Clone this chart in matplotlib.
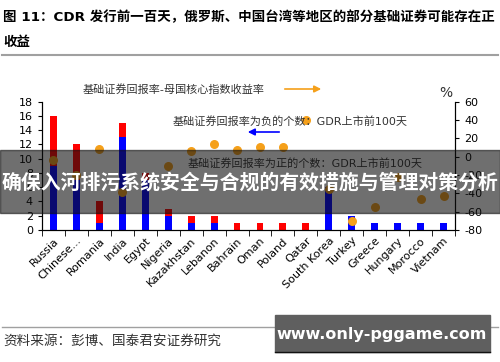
import numpy as np
import matplotlib
matplotlib.use("Agg")
import matplotlib.pyplot as plt
from matplotlib.patches import Rectangle

# -----------------------
# DATA
# -----------------------
countries = ["Russia", "Chinese...", "Romania", "India", "Egypt", "Nigeria",
             "Kazakhstan", "Lebanon", "Bahrain", "Oman", "Poland", "Qatar",
             "South Korea", "Turkey", "Greece", "Hungary", "Morocco", "Vietnam"]
pos_count = [9, 7, 1, 13, 7, 2, 1, 1, 0, 0, 0, 0, 6, 2, 1, 1, 1, 1]
neg_count = [7, 5, 3, 2, 1, 1, 1, 1, 1, 1, 1, 1, 0, 0, 0, 0, 0, 0]
excess_ret = [-4, -20, 8, -38, np.nan, -10, 6.5, 14, 7.5, 10.5, 10.5, 40,
              -35, -70, -55, -22, -46, -43]

left_ticks = list(range(0, 19, 2))
right_ticks = list(range(-80, 61, 20))

title_line1 = "图 11：CDR 发行前一百天，俄罗斯、中国台湾等地区的部分基础证券可能存在正"
title_line2 = "收益"
label_diff = "基础证券回报率-母国核心指数收益率"
label_neg = "基础证券回报率为负的个数：GDR上市前100天"
label_pos = "基础证券回报率为正的个数：GDR上市前100天"
source_text = "资料来源：彭博、国泰君安证券研究"
banner_text = "确保入河排污系统安全与合规的有效措施与管理对策分析"
mark_text = "www.only-pggame.com"

# -----------------------
# STYLE
# -----------------------
plt.rcParams['font.family'] = ['DejaVu Sans', 'Noto Sans CJK SC']
W, H = 500, 362

def fx(px):
    return px / W

def fy(py):
    return 1 - py / H

fig = plt.figure(figsize=(5, 3.62), dpi=100)
ax = fig.add_axes([fx(42), fy(230), fx(455) - fx(42), fy(101.7) - fy(230)])

x = np.arange(len(countries))
ax.bar(x, pos_count, width=0.3, color="#0000ff", zorder=2)
ax.bar(x, neg_count, width=0.3, bottom=pos_count, color="#ff0000", zorder=2)
ax.set_xlim(-0.5, len(countries) - 0.5)
ax.set_ylim(0, 18)
ax.set_yticks(left_ticks)
ax.tick_params(axis="y", labelsize=8, length=3, direction="out")
ax.set_xticks(x)
ax.set_xticklabels(countries, rotation=45, ha="right", va="top",
                   rotation_mode="anchor", fontsize=8)
ax.tick_params(axis="x", length=0, pad=4)
ax.set_xticks(np.arange(-0.5, len(countries), 1), minor=True)
ax.tick_params(axis="x", which="minor", length=4, direction="out")
ax.spines["top"].set_visible(False)

ax2 = ax.twinx()
ax2.scatter(x, excess_ret, s=30, color="#f5a01a", zorder=3)
ax2.set_ylim(-80, 60)
ax2.set_yticks(right_ticks)
ax2.set_yticklabels([str(t) for t in right_ticks])
ax2.tick_params(axis="y", labelsize=8, length=3, direction="out")
ax2.spines["top"].set_visible(False)

# -----------------------
# ANNOTATIONS
# -----------------------
fig.text(fx(83), fy(89), label_diff, fontsize=8, va="center", color="#333333")
fig.text(fx(173), fy(121), label_neg, fontsize=8, va="center", color="#333333")
fig.text(fx(188), fy(163), label_pos, fontsize=8, va="center", color="#333333")
fig.text(fx(439), fy(93), "%", fontsize=10, va="center", color="#333333")
fig.add_artist(plt.Annotation("", xy=(fx(324), fy(89)), xytext=(fx(282), fy(89)),
                              xycoords="figure fraction",
                              arrowprops=dict(arrowstyle="-|>", color="#f5a01a", lw=1.2)))
fig.add_artist(plt.Annotation("", xy=(fx(245), fy(132)), xytext=(fx(282), fy(132)),
                              xycoords="figure fraction",
                              arrowprops=dict(arrowstyle="-|>", color="#0000ff", lw=1.2)))

# -----------------------
# TITLE / FOOTER
# -----------------------
fig.text(fx(3), fy(17), title_line1, fontsize=9.7, fontweight="bold", va="center")
fig.text(fx(3), fy(42), title_line2, fontsize=9.7, fontweight="bold", va="center")
fig.add_artist(plt.Line2D([fx(2), fx(498)], [fy(55), fy(55)], color="#a0a0a0", lw=1.5))
fig.add_artist(plt.Line2D([fx(2), fx(498)], [fy(327), fy(327)], color="#a0a0a0", lw=1))
fig.text(fx(3), fy(341), source_text, fontsize=9.8, va="center", color="#333333")

# -----------------------
# OVERLAYS
# -----------------------
fig.add_artist(Rectangle((0, fy(213)), 1, fy(150) - fy(213), transform=fig.transFigure,
                         color="#101010", alpha=0.6, zorder=10))
fig.text(0.5, fy(182), banner_text, fontsize=14.3, fontweight="bold", color="white",
         ha="center", va="center", zorder=11, family=['Noto Sans CJK SC', 'DejaVu Sans'])
fig.add_artist(Rectangle((fx(275), fy(352)), fx(490) - fx(275), fy(315) - fy(352),
                         transform=fig.transFigure, color="#5f5f5f", zorder=10))
fig.add_artist(plt.Line2D([fx(275), fx(490)], [fy(352), fy(352)], color="#111111", lw=1, zorder=11))
fig.text(fx(382), fy(334), mark_text, fontsize=11.5, fontweight="bold", color="white",
         ha="center", va="center", zorder=11)

fig.savefig("out.png", dpi=100)
